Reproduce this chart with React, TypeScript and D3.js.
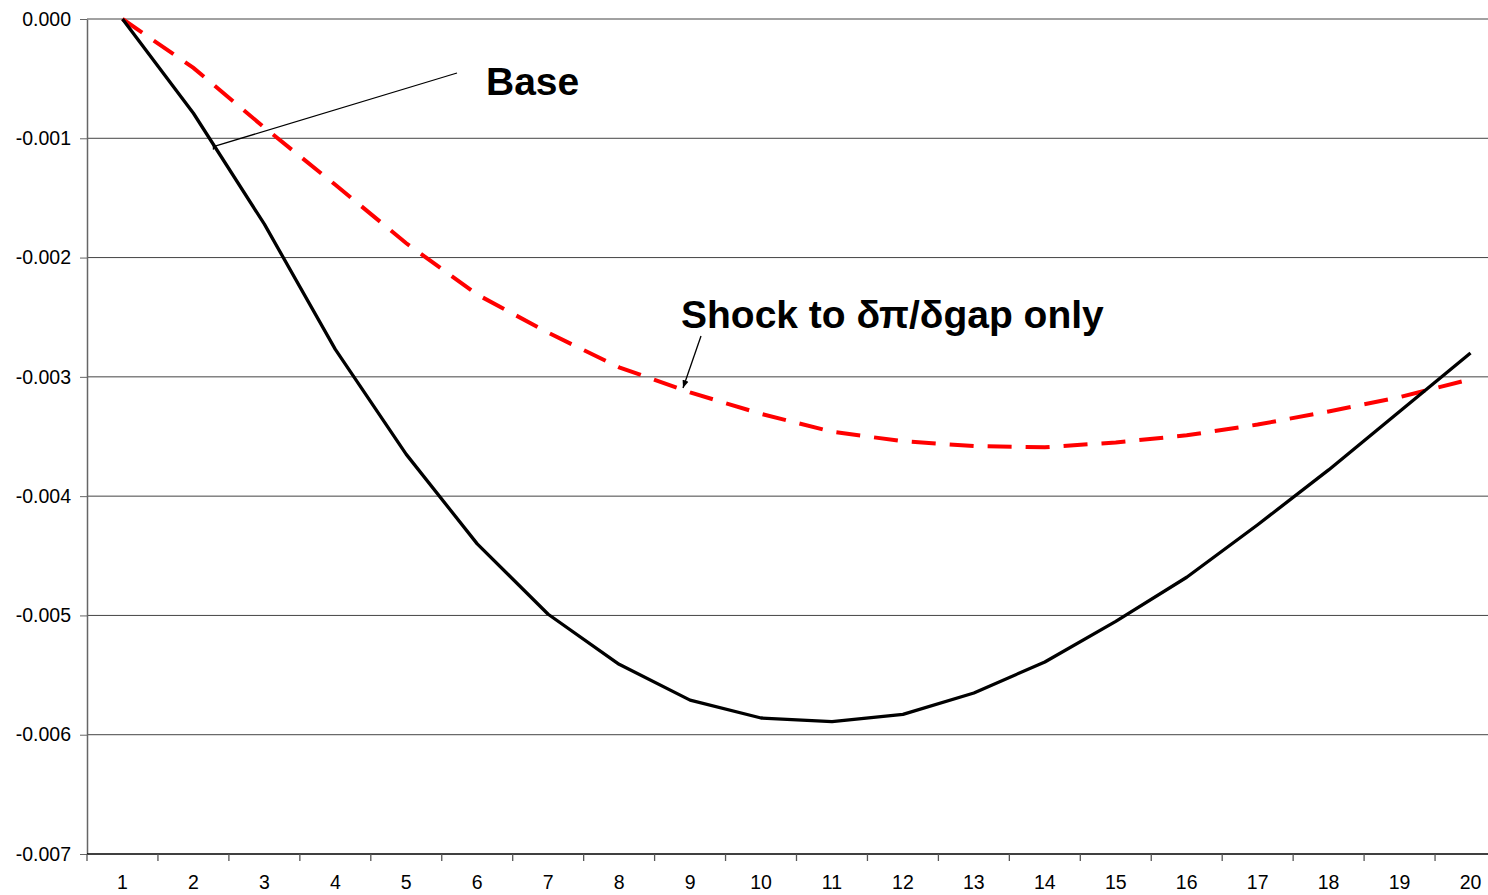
import { useEffect, useRef } from "react";
import * as d3 from "d3";

const periods = ["1", "2", "3", "4", "5", "6", "7", "8", "9", "10", "11", "12", "13", "14", "15", "16", "17", "18", "19", "20"];

const baseValues = [
    0, -0.00079, -0.00172, -0.00277, -0.00365, -0.0044, -0.00499, -0.00541, -0.00571, -0.00586,
    -0.00589, -0.00583, -0.00565, -0.00539, -0.00505, -0.00468, -0.00424, -0.00378, -0.00329, -0.0028,
];

const shockValues = [
    0, -0.00041, -0.00091, -0.00139, -0.00188, -0.00231, -0.00263, -0.00292, -0.00313, -0.00331,
    -0.00346, -0.00354, -0.00358, -0.00359, -0.00355, -0.00349, -0.0034, -0.00329, -0.00317, -0.00302,
];

const yTicks = [0, -0.001, -0.002, -0.003, -0.004, -0.005, -0.006, -0.007];

const FONT = "'Liberation Sans', Arial, sans-serif";

export default function App() {
    const ref = useRef<SVGSVGElement>(null);

    useEffect(() => {
        const svg = d3.select(ref.current);
        svg.selectAll("*").remove();

        const width = 1488, height = 895;
        const margin = { top: 19, left: 87, bottom: 41 };
        const plotRight = 1506;

        svg.attr("width", width).attr("height", height);

        const x = d3.scaleBand().domain(periods).range([margin.left, plotRight]).padding(0);
        const cx = (p: string) => (x(p) as number) + x.bandwidth() / 2;
        const y = d3.scaleLinear().domain([-0.007, 0]).range([height - margin.bottom, margin.top]);

        // gridlines
        svg.append("g")
            .selectAll("line")
            .data(yTicks.slice(0, -1))
            .join("line")
            .attr("x1", margin.left).attr("x2", width)
            .attr("y1", d => y(d)).attr("y2", d => y(d))
            .attr("stroke", "#444").attr("stroke-width", 1);

        // y axis
        const yAxis = svg.append("g")
            .attr("transform", "translate(" + margin.left + ",0)")
            .call(d3.axisLeft(y).tickValues(yTicks).tickFormat(d3.format(".3f")).tickSize(7).tickSizeOuter(0));
        yAxis.select(".domain").attr("stroke", "#666").attr("stroke-width", 1.5);
        yAxis.selectAll(".tick line").attr("stroke", "#666");
        yAxis.selectAll("text")
            .attr("font-family", FONT).attr("font-size", 19.5).attr("fill", "#000")
            .attr("x", -16)
            .text(d => d3.format(".3f")(d as number).replace("−", "-"));

        // x axis
        const xAxisY = y(-0.007);
        svg.append("line")
            .attr("x1", margin.left).attr("x2", width)
            .attr("y1", xAxisY).attr("y2", xAxisY)
            .attr("stroke", "#000").attr("stroke-width", 1.3);
        svg.append("g")
            .selectAll("line")
            .data(periods)
            .join("line")
            .attr("x1", d => x(d) as number).attr("x2", d => x(d) as number)
            .attr("y1", xAxisY).attr("y2", xAxisY + 7)
            .attr("stroke", "#555").attr("stroke-width", 1.3);
        svg.append("g")
            .selectAll("text")
            .data(periods)
            .join("text")
            .attr("x", d => cx(d))
            .attr("y", xAxisY + 35)
            .attr("text-anchor", "middle")
            .attr("font-family", FONT).attr("font-size", 19.5)
            .text(d => d);

        const line = d3.line<number>().x((d, i) => cx(periods[i])).y(d => y(d));

        svg.append("path")
            .attr("fill", "none")
            .attr("stroke", "#ff0000")
            .attr("stroke-width", 4)
            .attr("stroke-dasharray", "24,14")
            .attr("d", line(shockValues));

        svg.append("path")
            .attr("fill", "none")
            .attr("stroke", "#000")
            .attr("stroke-width", 3.3)
            .attr("stroke-linejoin", "round")
            .attr("d", line(baseValues));

        // annotations
        const defs = svg.append("defs");
        defs.append("marker")
            .attr("id", "arrow")
            .attr("viewBox", "0 0 10 10")
            .attr("refX", 10).attr("refY", 5)
            .attr("markerWidth", 6).attr("markerHeight", 6)
            .attr("orient", "auto")
            .append("path").attr("d", "M0,1 L10,5 L0,9 Z").attr("fill", "#000");

        svg.append("line")
            .attr("x1", 457).attr("y1", 73)
            .attr("x2", cx("2") + 20).attr("y2", y(-0.00107))
            .attr("stroke", "#000").attr("stroke-width", 1.3);
        svg.append("line")
            .attr("x1", cx("2") + 20).attr("y1", y(-0.00107) - 4)
            .attr("x2", cx("2") + 20).attr("y2", y(-0.00107) + 3)
            .attr("stroke", "#000").attr("stroke-width", 1.3);
        svg.append("text")
            .attr("x", 486).attr("y", 95)
            .attr("font-family", FONT).attr("font-weight", "bold").attr("font-size", 39)
            .text("Base");

        svg.append("line")
            .attr("x1", 701).attr("y1", 336)
            .attr("x2", 683).attr("y2", 388)
            .attr("stroke", "#000").attr("stroke-width", 1.3)
            .attr("marker-end", "url(#arrow)");
        svg.append("text")
            .attr("x", 681).attr("y", 328)
            .attr("font-family", FONT).attr("font-weight", "bold").attr("font-size", 39)
            .text("Shock to δπ/δgap only");
    }, []);

    return (
        <div style={{ position: "absolute", left: 0, top: 0 }}>
            <svg ref={ref} style={{ display: "block", background: "#fff" }} />
        </div>
    );
}
